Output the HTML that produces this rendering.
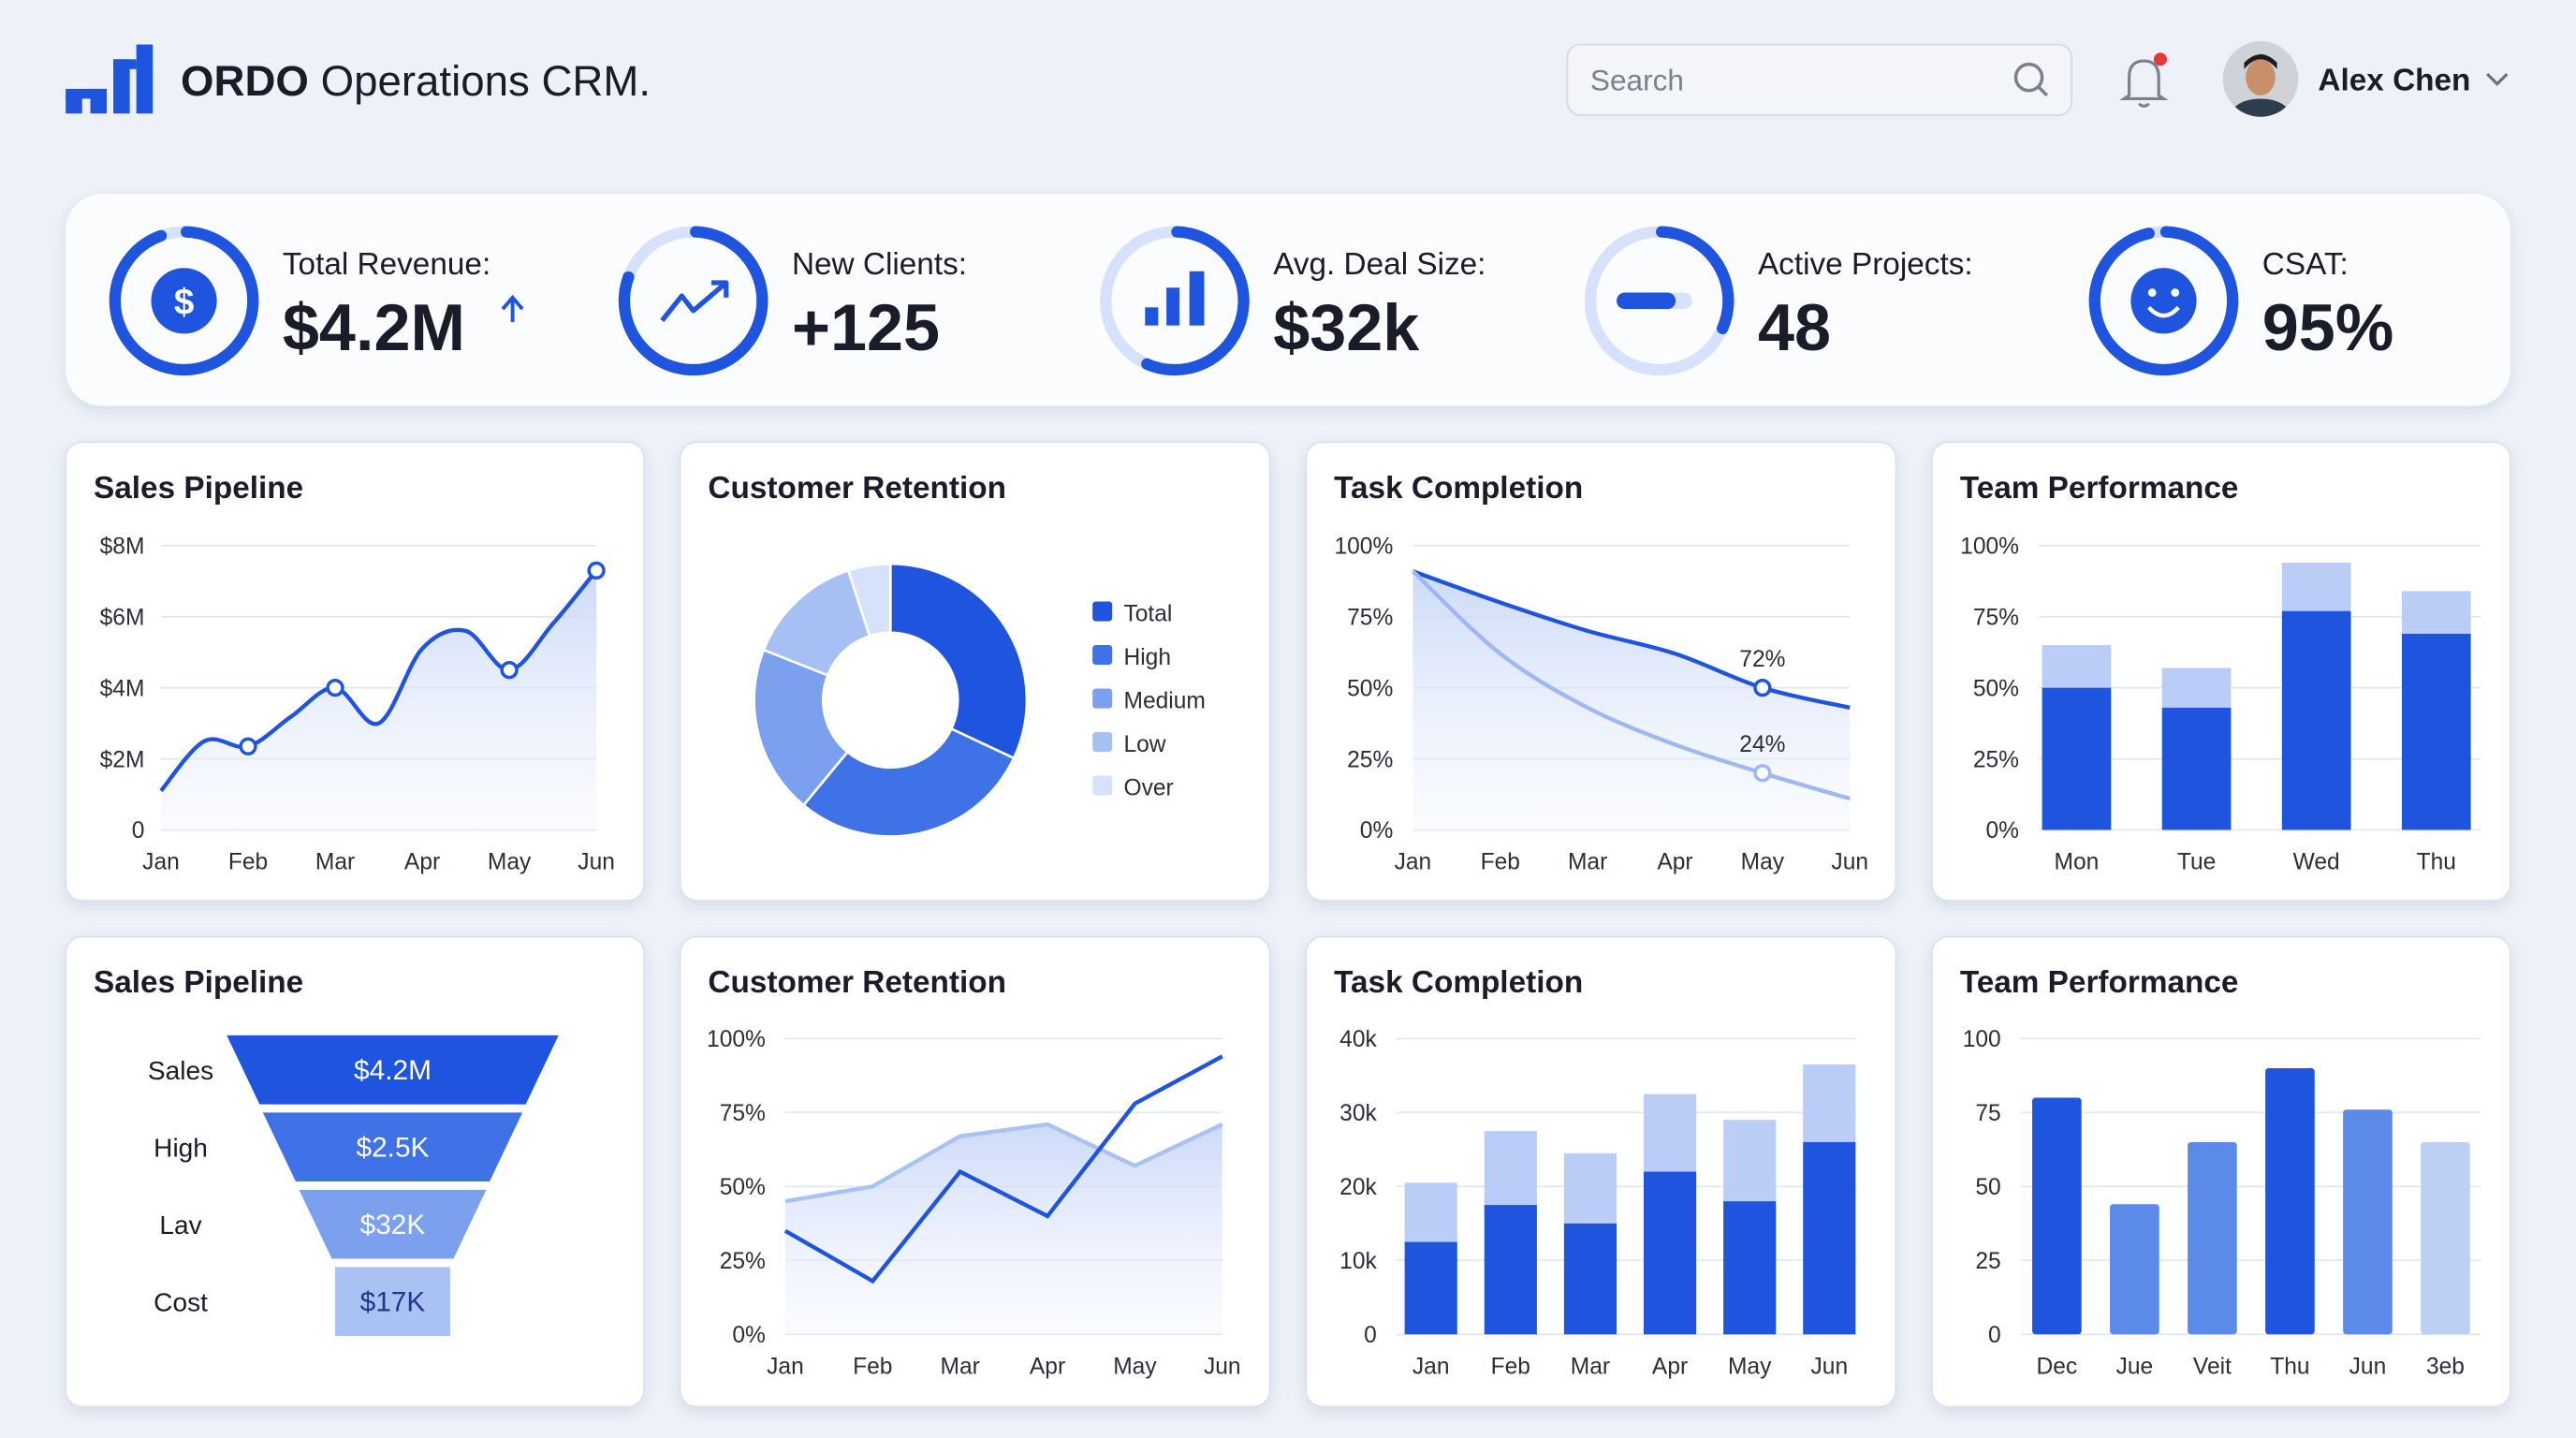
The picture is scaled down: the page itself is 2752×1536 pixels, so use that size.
<!DOCTYPE html>
<html><head><meta charset="utf-8"><title>ORDO Operations CRM</title>
<style>
html,body{margin:0;padding:0;background:#eef2f8;}
svg{display:block;font-family:"Liberation Sans",sans-serif;}
.t{fill:#1a1d29}
.ax{fill:#2a2e3a;font-size:14px}
.grid{stroke:#e3e7ee;stroke-width:1}
.ct{font-size:19px;font-weight:bold;fill:#1a1d29}
</style></head>
<body>
<svg id="root" width="2752" height="1536" viewBox="0 0 1568 875">
<defs>
<filter id="sh" x="-10%" y="-10%" width="120%" height="130%"><feDropShadow dx="0" dy="3" stdDeviation="5" flood-color="#9fb0cc" flood-opacity="0.35"/></filter>
<linearGradient id="ga" x1="0" y1="0" x2="0" y2="1"><stop offset="0" stop-color="#c7d6f7" stop-opacity="0.9"/><stop offset="1" stop-color="#eef3fd" stop-opacity="0.3"/></linearGradient>
<clipPath id="avc"><circle cx="1376" cy="48" r="23"/></clipPath>
</defs>
<rect x="0" y="0" width="1568" height="875" fill="#eef2f8"/>
<!-- header -->
<g>
<rect x="40" y="58" width="10" height="11" fill="#1f55de"/><rect x="40" y="54" width="24" height="6" fill="#1f55de"/>
<rect x="55" y="54" width="10" height="15" fill="#1f55de"/><rect x="69" y="36" width="10" height="33" fill="#1f55de"/><rect x="69" y="36" width="14" height="6" fill="#1f55de"/>
<rect x="83" y="27" width="10" height="42" fill="#1f55de"/>
</g>
<text x="110" y="58" font-size="26" class="t"><tspan font-weight="bold">ORDO</tspan> Operations CRM.</text>
<rect x="954" y="27" width="307" height="43" rx="8" fill="#f3f5f9" stroke="#d5d9e1"/>
<text x="968" y="55" font-size="18" fill="#7b808c">Search</text>
<g fill="none" stroke="#7b808c" stroke-width="2"><circle cx="1235" cy="47" r="8"/><line x1="1241" y1="53" x2="1246" y2="58"/></g>
<g fill="none" stroke="#7b808c" stroke-width="1.8">
<path d="M1296 58 L1296 47 Q1296 37 1305 37 Q1314 37 1314 47 L1314 58 L1317 60 L1293 60 Z"/><path d="M1302 63 Q1305 66 1308 63"/>
<circle cx="1315" cy="36" r="4" fill="#e53935" stroke="none"/></g>
<g clip-path="url(#avc)">
<rect x="1352" y="24" width="48" height="48" fill="#cfd3d8"/>
<ellipse cx="1376" cy="47" rx="9" ry="11" fill="#c98f6a"/><path d="M1366 42 Q1376 30 1386 42 L1386 38 Q1376 28 1366 38Z" fill="#1d1d1d"/>
<path d="M1356 72 Q1360 60 1376 60 Q1392 60 1396 72Z" fill="#2c3e4c"/></g>
<text x="1411" y="55" font-size="19" font-weight="bold" class="t">Alex Chen</text>
<path d="M1514 45 L1520 51 L1526 45" fill="none" stroke="#6b707c" stroke-width="1.8"/>
<!-- KPI -->
<rect x="40" y="118" width="1488" height="129" rx="22" fill="#fbfcfe" filter="url(#sh)"/>
<g id="kpis"></g>
<!-- cards -->
<g id="cards"></g>
<g id="charts"></g>
</svg>
<script>
const NS="http://www.w3.org/2000/svg";
function mk(tag,attrs,parent){const e=document.createElementNS(NS,tag);for(const k in attrs)e.setAttribute(k,attrs[k]);(parent||document.getElementById('charts')).appendChild(e);return e;}
function txt(s,attrs,parent){const e=mk('text',attrs,parent);e.textContent=s;return e;}
const DARK="#1f55de",MID="#6b93ec",LIGHT="#b9cdf6",PALE="#d6e2fb";

// KPI data
const kpiLabels=["Total Revenue:","New Clients:","Avg. Deal Size:","Active Projects:","CSAT:"];
const kpiValues=["$4.2M","+125","$32k","48","95%"];
const kpiProgress=[0.94,0.8,0.56,0.31,0.96];
const kpiX=[112,422,715,1010,1317];
const kg=document.getElementById('kpis');
kpiLabels.forEach((lab,i)=>{
  const cx=kpiX[i],cy=183,r=42,C=2*Math.PI*r;
  const bg=mk('circle',{cx,cy,r,fill:'none',stroke:PALE,'stroke-width':7},kg);
  
  
  const arc=mk('circle',{cx,cy,r,fill:'none',stroke:DARK,'stroke-width':7,'stroke-linecap':'round','stroke-dasharray':(C*kpiProgress[i])+' '+C,transform:`rotate(-88 ${cx} ${cy})`},kg);
  
  
  const l=txt(lab,{x:cx+60,y:167,'font-size':19,class:'t'},kg);
  
  
  const v=txt(kpiValues[i],{x:cx+60,y:213,'font-size':40,'font-weight':'bold',class:'t'},kg);
  
  
});
// icons
let ic;
ic=mk('g',{},kg);
mk('circle',{cx:112,cy:183,r:20,fill:DARK},ic);txt('$',{x:112,y:191,'font-size':22,'font-weight':'bold',fill:'#fff','text-anchor':'middle'},ic);
ic=mk('path',{d:'M312 196 L312 182 M306 188 L312 181 L318 188',fill:'none',stroke:DARK,'stroke-width':2.2},kg);
ic=mk('path',{d:'M403 195 L415 180 L422 189 L442 172 M433 172 L442 172 L442 181',fill:'none',stroke:DARK,'stroke-width':3,'stroke-linejoin':'round'},kg);
ic=mk('g',{fill:DARK},kg);
mk('rect',{x:697,y:187,width:8,height:11},ic);mk('rect',{x:710,y:175,width:8,height:23},ic);mk('rect',{x:724,y:165,width:9,height:33},ic);
ic=mk('g',{},kg);
mk('rect',{x:984,y:178,width:46,height:10,rx:5,fill:PALE},ic);mk('rect',{x:984,y:178,width:36,height:10,rx:5,fill:DARK},ic);
ic=mk('g',{},kg);
mk('circle',{cx:1317,cy:183,r:20,fill:DARK},ic);mk('circle',{cx:1310,cy:178,r:2.5,fill:'#fff'},ic);mk('circle',{cx:1324,cy:178,r:2.5,fill:'#fff'},ic);
mk('path',{d:'M1308 187 Q1317 197 1326 187',fill:'none',stroke:'#fff','stroke-width':2.5},ic);

// cards
const cardX=[40,414,795,1176],cardW=[352,359,359,352],cardY=[269,570],cardH=[279,286];
const titles=[["Sales Pipeline","Customer Retention","Task Completion","Team Performance"],["Sales Pipeline","Customer Retention","Task Completion","Team Performance"]];
const cg=document.getElementById('cards');
for(let r=0;r<2;r++)for(let c=0;c<4;c++){
  const rc=mk('rect',{x:cardX[c],y:cardY[r],width:cardW[c],height:cardH[r],rx:10,fill:'#fff',stroke:'#dde2ea',filter:'url(#sh)'},cg);
  
  
  const t=txt(titles[r][c],{x:cardX[c]+17,y:cardY[r]+34,class:'ct'},cg);
  
  
}
function smooth(pts){let d=`M${pts[0][0]} ${pts[0][1]}`;for(let i=0;i<pts.length-1;i++){const p0=pts[i-1]||pts[i],p1=pts[i],p2=pts[i+1],p3=pts[i+2]||p2;
 d+=` C${p1[0]+(p2[0]-p0[0])/6} ${p1[1]+(p2[1]-p0[1])/6} ${p2[0]-(p3[0]-p1[0])/6} ${p2[1]-(p3[1]-p1[1])/6} ${p2[0]} ${p2[1]}`;}return d;}
function yAxis(ticks,labels,x0,x1,yf,lx,name){ticks.forEach((t,i)=>{const g=mk('line',{x1:x0,x2:x1,y1:yf(t),y2:yf(t),class:'grid'});
 const l=txt(labels[i],{x:lx,y:yf(t)+5,class:'ax','text-anchor':'end'});});}
function xAxis(cats,xf,y,name){cats.forEach((c,i)=>{const l=txt(c,{x:xf(i),y,class:'ax','text-anchor':'middle'});});}

// 1 Sales pipeline line
const spMonths=["Jan","Feb","Mar","Apr","May","Jun"];
const spValues=[1.1,2.5,2.35,3.2,4.0,3.0,5.1,5.6,4.5,5.8,7.3];
const spMarkers=[2,4,8,10];
const spTicks=[0,2,4,6,8];const spTickLabels=["0","$2M","$4M","$6M","$8M"];
{const x=i=>98+i*(265/10),y=v=>505-v*(173/8);
 yAxis(spTicks,spTickLabels,98,363,y,88,'sales-pipeline');xAxis(spMonths,i=>98+i*53,529,'sales-pipeline');
 const pts=spValues.map((v,i)=>[x(i),y(v)]);const d=smooth(pts);
 const a=mk('path',{d:d+` L${x(10)} 505 L${x(0)} 505 Z`,fill:'url(#ga)'});
 const l=mk('path',{d,fill:'none',stroke:DARK,'stroke-width':2.5});
 spMarkers.forEach(i=>{const m=mk('circle',{cx:x(i),cy:y(spValues[i]),r:4.5,fill:'#fff',stroke:DARK,'stroke-width':2});});}

// 2 Donut
const dnLabels=["Total","High","Medium","Low","Over"];
const dnValues=[32,29,20,14,5];
const dnColors=[DARK,"#3f72e6","#7aa0ee","#a7c0f4","#d6e2fb"];
{const cx=542,cy=426,R=83,r0=41,tot=dnValues.reduce((a,b)=>a+b,0);let a0=0;
 dnValues.forEach((v,i)=>{const a1=a0+v/tot*2*Math.PI;const P=(rr,a)=>[cx+rr*Math.sin(a),cy-rr*Math.cos(a)];const lg=(a1-a0)>Math.PI?1:0;
  const [x1,y1]=P(R,a0),[x2,y2]=P(R,a1),[x3,y3]=P(r0,a1),[x4,y4]=P(r0,a0);
  const s=mk('path',{d:`M${x1} ${y1} A${R} ${R} 0 ${lg} 1 ${x2} ${y2} L${x3} ${y3} A${r0} ${r0} 0 ${lg} 0 ${x4} ${y4}Z`,fill:dnColors[i],stroke:'#fff','stroke-width':1.5});
  a0=a1;
  const sw=mk('rect',{x:665,y:366+i*26.5,width:12,height:12,rx:2,fill:dnColors[i]});
  const lt=txt(dnLabels[i],{x:684,y:378+i*26.5,class:'ax','font-size':15});});}

// 3 Task completion lines
const tcMonths=["Jan","Feb","Mar","Apr","May","Jun"];
const tcPlanned=[91,80,70,62,50,43];
const tcActual=[91,62,43,30,20,11];
const tcLabels=["72%","24%"];
const tcTicks=[0,25,50,75,100];const tcTickLabels=["0%","25%","50%","75%","100%"];
{const x=i=>860+i*53.2,y=v=>505-v*1.73;
 yAxis(tcTicks,tcTickLabels,860,1126,y,848,'task-completion');xAxis(tcMonths,x,529,'task-completion');
 const p1=tcPlanned.map((v,i)=>[x(i),y(v)]),p2=tcActual.map((v,i)=>[x(i),y(v)]);
 const d1=smooth(p1),d2=smooth(p2);
 const ar=mk('path',{d:d1+` L${x(5)} 505 L${x(0)} 505 Z`,fill:'url(#ga)'});
 const l1=mk('path',{d:d1,fill:'none',stroke:DARK,'stroke-width':2.5});
 const l2=mk('path',{d:d2,fill:'none',stroke:"#9db8f2",'stroke-width':2.5});
 [[tcPlanned,DARK,0],[tcActual,"#9db8f2",1]].forEach(([s,c,k])=>{const m=mk('circle',{cx:x(4),cy:y(s[4]),r:4.5,fill:'#fff',stroke:c,'stroke-width':2});
  const t=txt(tcLabels[k],{x:x(4),y:y(s[4])-13,class:'ax','text-anchor':'middle'});});}

// 4 Team performance stacked %
const tpDays=["Mon","Tue","Wed","Thu"];
const tpBase=[50,43,77,69];
const tpTotal=[65,57,94,84];
{const x=i=>1264+i*73,y=v=>505-v*1.73;
 yAxis(tcTicks,tcTickLabels,1241,1510,y,1229,'team-performance');xAxis(tpDays,x,529,'team-performance');
 tpDays.forEach((d,i)=>{const b2=mk('rect',{x:x(i)-21,y:y(tpTotal[i]),width:42,height:y(tpBase[i])-y(tpTotal[i]),fill:LIGHT});
  const b=mk('rect',{x:x(i)-21,y:y(tpBase[i]),width:42,height:505-y(tpBase[i]),fill:DARK});});}

// 5 Funnel
const fnStages=["Sales","High","Lav","Cost"];
const fnValues=["$4.2M","$2.5K","$32K","$17K"];
const fnColors=[DARK,"#3f72e6","#7aa0ee","#a9c2f3"];
{const cx=239;const top=i=>630+i*47,w=i=>202-i*44;
 fnStages.forEach((s,i)=>{const wt=w(i)/2,wb=i<3?(w(i)-40)/2:wt,y0=top(i),y1=y0+42;
  const p=mk('path',{d:`M${cx-wt} ${y0} L${cx+wt} ${y0} L${cx+wb} ${y1} L${cx-wb} ${y1}Z`,fill:fnColors[i]});
  const v=txt(fnValues[i],{x:cx,y:y0+27,'font-size':17,fill:i<3?'#fff':'#1a3a8a','text-anchor':'middle'});
  const l=txt(s,{x:110,y:y0+27,'font-size':16,class:'t','text-anchor':'middle'});});}

// 6 Retention lines
const rtMonths=["Jan","Feb","Mar","Apr","May","Jun"];
const rtSeriesA=[35,18,55,40,78,94];
const rtSeriesB=[45,50,67,71,57,71];
{const x=i=>478+i*53.2,y=v=>812-v*1.8;
 yAxis(tcTicks,tcTickLabels,478,744,y,466,'retention');xAxis(rtMonths,x,836,'retention');
 const pa=rtSeriesA.map((v,i)=>`${x(i)} ${y(v)}`).join(' L'),pb=rtSeriesB.map((v,i)=>`${x(i)} ${y(v)}`).join(' L');
 const ar=mk('path',{d:`M${pb} L${x(5)} 812 L${x(0)} 812Z`,fill:'url(#ga)'});
 const lb=mk('path',{d:'M'+pb,fill:'none',stroke:"#a9c2f3",'stroke-width':2.5});
 const la=mk('path',{d:'M'+pa,fill:'none',stroke:DARK,'stroke-width':2.5});}

// 7 Task completion stacked bars
const tbMonths=["Jan","Feb","Mar","Apr","May","Jun"];
const tbBase=[12.5,17.5,15,22,18,26];
const tbTotal=[20.5,27.5,24.5,32.5,29,36.5];
const tbTicks=[0,10,20,30,40];const tbTickLabels=["0","10k","20k","30k","40k"];
{const x=i=>871+i*48.5,y=v=>812-v*4.5;
 yAxis(tbTicks,tbTickLabels,850,1130,y,838,'task-bars');xAxis(tbMonths,x,836,'task-bars');
 tbMonths.forEach((m,i)=>{const t=mk('rect',{x:x(i)-16,y:y(tbTotal[i]),width:32,height:y(tbBase[i])-y(tbTotal[i]),fill:LIGHT});
  const b=mk('rect',{x:x(i)-16,y:y(tbBase[i]),width:32,height:812-y(tbBase[i]),fill:DARK});});}

// 8 Team performance bars
const t2Cats=["Dec","Jue","Veit","Thu","Jun","3eb"];
const t2Values=[80,44,65,90,76,65];
const t2Colors=[DARK,"#5b8ae8","#5b8ae8",DARK,"#5b8ae8","#bcd0f5"];
const t2Ticks=[0,25,50,75,100];const t2TickLabels=["0","25","50","75","100"];
{const x=i=>1252+i*47.3,y=v=>812-v*1.8;
 yAxis(t2Ticks,t2TickLabels,1230,1510,y,1218,'team-bars');xAxis(t2Cats,x,836,'team-bars');
 t2Cats.forEach((c,i)=>{const b=mk('rect',{x:x(i)-15,y:y(t2Values[i]),width:30,height:812-y(t2Values[i]),rx:2,fill:t2Colors[i]});});}
</script>
</body></html>
